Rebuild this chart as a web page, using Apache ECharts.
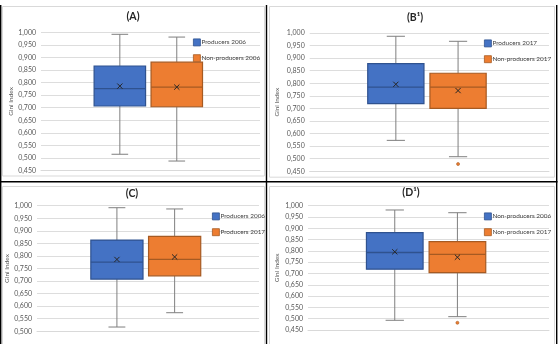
<!DOCTYPE html>
<html>
<head>
<meta charset="utf-8">
<script src="https://cdn.jsdelivr.net/npm/echarts@6/dist/echarts.min.js"></script>
<style>
  html, body { margin: 0; padding: 0; background: #fff; }
  #chart { width: 559px; height: 344px; }
</style>
</head>
<body>
<div id="chart"></div>
<script>

// box stats: [min, q1, median, q3, max]
var panelTitles = ['(A)', '(B\u00B9)', '(C)', '(D\u00B9)'];
var panelNames = [
	['Producers 2006', 'Non-producers 2006'],
	['Producers 2017', 'Non-producers 2017'],
	['Producers 2006', 'Producers 2017'],
	['Non-producers 2006', 'Non-producers 2017']
];
var statsA = [[0.515, 0.707, 0.776, 0.866, 0.992], [0.488, 0.704, 0.782, 0.881, 0.981]];
var statsB = [[0.573, 0.719, 0.785, 0.878, 0.987], [0.508, 0.700, 0.785, 0.840, 0.967]];
var statsC = [[0.517, 0.708, 0.775, 0.863, 0.992], [0.574, 0.721, 0.786, 0.878, 0.987]];
var statsD = [[0.493, 0.719, 0.793, 0.881, 0.981], [0.509, 0.704, 0.785, 0.841, 0.969]];
var meansA = [0.786, 0.782];
var meansB = [0.796, 0.771];
var meansC = [0.786, 0.796];
var meansD = [0.796, 0.772];
var outliersA = [[], []];
var outliersB = [[], [0.479]];
var outliersC = [[], []];
var outliersD = [[], [0.482]];
var yMins = [0.45, 0.45, 0.50, 0.45];

var allStats = [statsA, statsB, statsC, statsD];
var allMeans = [meansA, meansB, meansC, meansD];
var allOutliers = [outliersA, outliersB, outliersC, outliersD];

var fills = ['#4472C4', '#ED7D31'];
var edges = ['#2F528F', '#A65A22'];
var font = 'Lato, "Liberation Sans", sans-serif';

var grids = [
	{left: 41, top: 32.3, width: 219, height: 138.3},
	{left: 309.7, top: 33, width: 239.3, height: 138.3},
	{left: 37, top: 205.7, width: 222, height: 125.6},
	{left: 308, top: 205.7, width: 241, height: 124.3}
];
var nameGaps = [26, 29.5, 24.5, 28];
var legendPos = [[188, 33.5], [479, 34.5], [207, 207.5], [479, 207.5]];
var titlePos = [[133, 17], [415, 18], [132, 194], [411, 193]];

var chart = echarts.init(document.getElementById('chart'));

function boxSeries(p, slot) {
	var s = allStats[p][slot];
	var outs = allOutliers[p][slot];
	return {
		type: 'custom',
		name: panelNames[p][slot],
		xAxisIndex: p,
		yAxisIndex: p,
		itemStyle: {color: fills[slot]},
		encode: {x: 0, y: [1, 2, 3, 4, 5, 6]},
		data: [[0, s[0], s[1], s[2], s[3], s[4], allMeans[p][slot]]],
		renderItem: function (params, api) {
			var bw = api.size([1, 0])[0];
			var base = api.coord([0, api.value(3)]);
			var cx = base[0] + bw * (slot === 0 ? -0.14 : 0.12);
			var w = bw * 0.235;
			var cap = bw * 0.038;
			var yLow = api.coord([0, api.value(1)])[1];
			var yQ1 = api.coord([0, api.value(2)])[1];
			var yMed = api.coord([0, api.value(3)])[1];
			var yQ3 = api.coord([0, api.value(4)])[1];
			var yHigh = api.coord([0, api.value(5)])[1];
			var yMean = api.coord([0, api.value(6)])[1];
			var whisker = {stroke: '#7F7F7F', lineWidth: 1};
			var kids = [
				{type: 'line', shape: {x1: cx, y1: yQ3, x2: cx, y2: yHigh}, style: whisker},
				{type: 'line', shape: {x1: cx, y1: yQ1, x2: cx, y2: yLow}, style: whisker},
				{type: 'line', shape: {x1: cx - cap, y1: yHigh, x2: cx + cap, y2: yHigh}, style: whisker},
				{type: 'line', shape: {x1: cx - cap, y1: yLow, x2: cx + cap, y2: yLow}, style: whisker},
				{type: 'rect', shape: {x: cx - w / 2, y: yQ3, width: w, height: yQ1 - yQ3},
					style: {fill: fills[slot], stroke: edges[slot], lineWidth: 1.2}},
				{type: 'line', shape: {x1: cx - w / 2, y1: yMed, x2: cx + w / 2, y2: yMed},
					style: {stroke: edges[slot], lineWidth: 1.3}},
				{type: 'line', shape: {x1: cx - 2.6, y1: yMean - 2.6, x2: cx + 2.6, y2: yMean + 2.6},
					style: {stroke: '#262626', lineWidth: 1}},
				{type: 'line', shape: {x1: cx - 2.6, y1: yMean + 2.6, x2: cx + 2.6, y2: yMean - 2.6},
					style: {stroke: '#262626', lineWidth: 1}}
			];
			outs.forEach(function (v) {
				var oy = api.coord([0, v])[1];
				kids.push({type: 'circle', shape: {cx: cx, cy: oy, r: 1.5},
					style: {fill: fills[slot], stroke: edges[slot], lineWidth: 0.6}});
			});
			return {type: 'group', children: kids};
		}
	};
}

var xAxes = [], yAxes = [], series = [], legends = [], texts = [];
for (var p = 0; p < 4; p++) {
	xAxes.push({
		type: 'category', gridIndex: p, data: [''],
		axisLine: {show: true, lineStyle: {color: '#D9D9D9'}},
		axisTick: {show: false}, axisLabel: {show: false}
	});
	yAxes.push({
		type: 'value', gridIndex: p, min: yMins[p], max: 1.0, interval: 0.05,
		name: 'Gini Index', nameLocation: 'middle', nameGap: nameGaps[p],
		nameTextStyle: {fontSize: 6.5, color: '#595959', fontFamily: font},
		axisLine: {show: false}, axisTick: {show: false},
		axisLabel: {
			fontSize: 7, color: '#595959', fontFamily: font, margin: 5,
			formatter: function (v) { return v.toFixed(3).replace('.', ','); }
		},
		splitLine: {lineStyle: {color: '#DDDDDD', width: 1}}
	});
	series.push(boxSeries(p, 0), boxSeries(p, 1));
	legends.push({
		orient: 'vertical', left: legendPos[p][0], top: legendPos[p][1],
		itemWidth: 7, itemHeight: 7, itemGap: 8, selectedMode: false, icon: 'rect',
		textStyle: {fontSize: 6.4, color: '#404040', fontFamily: font, padding: [0, 0, 0, -4]},
		data: [0, 1].map(function (k) {
			return {name: panelNames[p][k], itemStyle: {color: fills[k], borderColor: edges[k], borderWidth: 0.8}};
		})
	});
	texts.push({
		type: 'text', x: titlePos[p][0], y: titlePos[p][1],
		style: {text: panelTitles[p], fill: '#262626', font: 'bold 10.5px ' + font,
			textAlign: 'center', textVerticalAlign: 'middle'}
	});
}

var frame = [
	[2, 6, 262, 169.5], [269, 6, 285, 170.7], [2, 186, 262, 170], [269, 186, 285, 170]
].map(function (r) {
	return {type: 'rect', shape: {x: r[0] + 0.5, y: r[1] + 0.5, width: r[2], height: r[3]},
		style: {fill: null, stroke: '#D9D9D9', lineWidth: 1}, z: -1};
});
var rules = [
	[0.7, 5, 0.7, 344], [266.5, 5, 266.5, 344], [556.7, 5, 556.7, 344], [0, 181.7, 557.5, 181.7]
].map(function (l) {
	return {type: 'line', shape: {x1: l[0], y1: l[1], x2: l[2], y2: l[3]},
		style: {stroke: '#000', lineWidth: 1.4}, z: 10};
});

chart.setOption({
	animation: false,
	backgroundColor: '#fff',
	grid: grids,
	xAxis: xAxes,
	yAxis: yAxes,
	legend: legends,
	series: series,
	graphic: frame.concat(rules).concat(texts)
});

</script>
</body>
</html>
